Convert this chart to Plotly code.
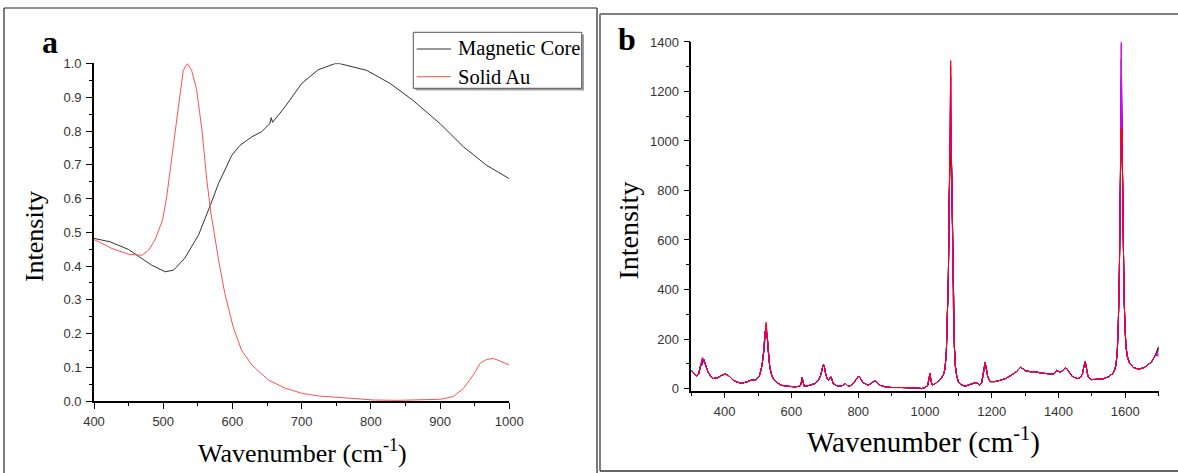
import plotly.graph_objects as go

W, H = 1178, 473
ML, MR, MT, MB = 15, 15, 15, 15

# ---------------- Panel a : extinction spectra ----------------
core_wn = [400, 404, 423, 450, 464, 483, 503, 515, 531, 551, 568, 580, 599, 611, 628, 642, 654, 656, 658, 676, 700, 724, 748, 755, 794, 828, 861, 900, 934, 967, 1000]
core_int = [0.482, 0.480, 0.472, 0.449, 0.429, 0.403, 0.383, 0.388, 0.423, 0.492, 0.580, 0.645, 0.728, 0.758, 0.783, 0.798, 0.822, 0.840, 0.826, 0.872, 0.941, 0.982, 1.000, 1.000, 0.980, 0.941, 0.891, 0.822, 0.753, 0.699, 0.659]

au_wn = [400, 404, 426, 450, 469, 479, 488, 499, 505, 513, 522, 529, 535, 541, 548, 556, 563, 569, 580, 589, 601, 613, 628, 652, 676, 700, 724, 758, 804, 837, 900, 919, 934, 948, 958, 967, 977, 986, 1000]
au_int = [0.478, 0.475, 0.452, 0.435, 0.432, 0.447, 0.477, 0.536, 0.605, 0.724, 0.872, 0.980, 1.000, 0.980, 0.926, 0.803, 0.654, 0.556, 0.418, 0.319, 0.220, 0.151, 0.107, 0.062, 0.038, 0.023, 0.015, 0.010, 0.003, 0.002, 0.005, 0.013, 0.038, 0.077, 0.112, 0.123, 0.126, 0.119, 0.107]

legend_names = ["Magnetic Core", "Solid Au"]
legend_colors = ["#333333", "#ff5050"]

# ---------------- Panel b : Raman spectra ----------------
raman_wn = [300, 308, 315, 322, 328, 333, 337, 342, 350, 358, 365, 380, 393, 402, 410, 418, 425, 435, 445, 455, 465, 480, 495, 505, 512, 517, 521, 524, 527, 530, 535, 540, 545, 555, 570, 590, 610, 625, 629, 632, 635, 638, 655, 670, 680, 688, 693, 696, 699, 703, 708, 712, 716, 718, 721, 725, 735, 745, 755, 762, 768, 775, 785, 795, 801, 807, 815, 830, 840, 849, 857, 865, 880, 900, 930, 960, 975, 990, 1000, 1008, 1012, 1015, 1018, 1022, 1031, 1040, 1048, 1055, 1060, 1064, 1067, 1070, 1073, 1075, 1077, 1079, 1081, 1083, 1085, 1088, 1091, 1095, 1100, 1108, 1120, 1130, 1142, 1150, 1156, 1164, 1170, 1175, 1178, 1180, 1183, 1188, 1195, 1210, 1225, 1241, 1260, 1274, 1282, 1287, 1293, 1301, 1315, 1329, 1350, 1370, 1384, 1390, 1395, 1399, 1404, 1412, 1420, 1425, 1432, 1440, 1450, 1458, 1466, 1472, 1476, 1480, 1484, 1488, 1497, 1510, 1525, 1536, 1550, 1563, 1568, 1572, 1576, 1579, 1582, 1585, 1587, 1588, 1590, 1592, 1594, 1596, 1599, 1602, 1606, 1612, 1618, 1624, 1635, 1645, 1657, 1668, 1679, 1690, 1700]
raman_base = [74, 62, 50, 58, 95, 118, 118, 98, 67, 50, 40, 44, 55, 58, 54, 44, 34, 27, 23, 23, 26, 34, 36, 54, 95, 150, 230, 258, 220, 160, 87, 58, 40, 25, 13, 9, 7, 9, 20, 44, 22, 9, 13, 20, 32, 55, 85, 96, 85, 55, 38, 34, 44, 47, 38, 20, 12, 9, 13, 20, 12, 10, 20, 40, 50, 40, 23, 13, 22, 31, 25, 13, 7, 4, 4, 4, 2, 0, 4, 12, 40, 61, 30, 14, 20, 30, 40, 55, 80, 150, 260, 450, 800, 1000, 1250, 950, 780, 520, 330, 170, 90, 50, 28, 16, 9, 14, 18, 24, 22, 14, 25, 60, 95, 105, 85, 47, 28, 28, 33, 40, 55, 68, 80, 86, 80, 72, 68, 68, 62, 60, 58, 65, 74, 70, 65, 72, 84, 80, 65, 50, 43, 40, 45, 61, 90, 108, 80, 50, 36, 36, 38, 40, 48, 61, 75, 95, 150, 260, 450, 800, 1050, 1300, 1050, 800, 560, 390, 250, 170, 130, 105, 95, 85, 80, 80, 85, 95, 108, 135, 165]

series_names = ["Spot 1", "Spot 2", "Spot 3", "Spot 4", "Spot 5", "Spot 6", "Spot 7", "Spot 8"]
series_colors = ["#000000", "#008000", "#000080", "#0000ff", "#800000", "#8000ff", "#ff00ff", "#ff0000"]
peak_333 = [110, 112, 105, 118, 100, 95, 120, 125]
peak_524 = [215, 225, 230, 245, 205, 240, 262, 268]
peak_1077 = [1030, 1080, 1120, 1260, 900, 960, 1300, 1325]
peak_1588 = [1250, 1390, 1150, 1330, 1100, 1200, 1400, 1000]
end_1700 = [170, 160, 165, 150, 140, 130, 135, 160]

fig = go.Figure()
fig.add_trace(go.Scatter(x=core_wn, y=core_int, mode="lines", name=legend_names[0],
                         line=dict(color=legend_colors[0], width=1), xaxis="x", yaxis="y"))
fig.add_trace(go.Scatter(x=au_wn, y=au_int, mode="lines", name=legend_names[1],
                         line=dict(color=legend_colors[1], width=1), xaxis="x", yaxis="y"))

for i, name in enumerate(series_names):
    overrides = {333: peak_333[i], 524: peak_524[i], 1077: peak_1077[i],
                 1588: peak_1588[i], 1700: end_1700[i]}
    yv = [overrides.get(w, b) for w, b in zip(raman_wn, raman_base)]
    fig.add_trace(go.Scatter(x=raman_wn, y=yv, mode="lines", name=name,
                             line=dict(color=series_colors[i], width=1), xaxis="x2", yaxis="y2"))

tickfont = dict(family="Liberation Sans, Arial, sans-serif", size=13, color="#333333")
common = dict(showline=True, linecolor="black", linewidth=1.6, ticks="outside", ticklen=6,
              tickwidth=1.3, tickcolor="black", showgrid=False, zeroline=False,
              tickfont=tickfont, mirror=False, ticklabelstandoff=2)
minor_style = dict(ticks="outside", ticklen=3.5, tickcolor="black", tickwidth=1.2)


def px(x):
    # page pixel -> paper fraction (paper = area inside the margins)
    return (x - ML) / (W - ML - MR)


def py(y):
    return 1 - (y - MT) / (H - MT - MB)


def clamp(v):
    return min(max(v, 0.0), 1.0)


fig.update_layout(
    width=W, height=H, margin=dict(l=ML, r=MR, t=MT, b=MB, pad=0, autoexpand=False),
    paper_bgcolor="white", plot_bgcolor="white",
    showlegend=False,
    xaxis=dict(domain=[clamp(px(94)), clamp(px(509.3))], range=[400, 1000], dtick=100, tick0=0,
               minor=dict(dtick=50, **minor_style), anchor="y", **common),
    yaxis=dict(domain=[clamp(py(401)), clamp(py(63.3))], range=[0, 1.001], dtick=0.1, tick0=0, tickformat=".1f",
               minor=dict(dtick=0.05, **minor_style), anchor="x", **common),
    xaxis2=dict(domain=[clamp(px(691.3)), clamp(px(1158.7))], range=[300, 1700], dtick=200, tick0=0,
                minor=dict(dtick=100, **minor_style), anchor="y2", **common),
    yaxis2=dict(domain=[clamp(py(390.5)), clamp(py(41.7))], range=[-8, 1401], dtick=200, tick0=0,
                minor=dict(dtick=100, **minor_style), anchor="x2", **common),
)

serif = "Liberation Serif, Times New Roman, serif"
ann = [
    dict(text="<b>a</b>", x=px(50), y=py(42), font=dict(family=serif, size=32, color="black")),
    dict(text="<b>b</b>", x=px(626.5), y=py(39), font=dict(family=serif, size=32, color="black")),
    dict(text="Wavenumber (cm<sup>-1</sup>)", x=px(302), y=py(451), font=dict(family=serif, size=26, color="black")),
    dict(text="Intensity", x=px(34.4), y=py(236.7), textangle=-90, font=dict(family=serif, size=26, color="black")),
    dict(text="Wavenumber (cm<sup>-1</sup>)", x=px(923.6), y=py(440), font=dict(family=serif, size=29, color="black")),
    dict(text="Intensity", x=px(627.6), y=py(231), textangle=-90, font=dict(family=serif, size=28, color="black")),
]
for a in ann:
    a.update(xanchor="center", yanchor="middle")
legend_rows_y = [49, 76.7]
for name, ry in zip(legend_names, legend_rows_y):
    ann.append(dict(text=name, x=px(456), y=py(ry), xanchor="left", yanchor="middle",
                    font=dict(family=serif, size=20.5, color="black")))
for a in ann:
    a.update(xref="paper", yref="paper", showarrow=False)
fig.update_layout(annotations=ann)

shapes = [
    # panel a frame
    dict(type="line", x0=px(4), x1=px(4), y0=py(473), y1=py(8), line=dict(color="#222222", width=1.2)),
    dict(type="line", x0=px(4), x1=px(597), y0=py(8), y1=py(8), line=dict(color="#222222", width=1.2)),
    dict(type="line", x0=px(597), x1=px(597), y0=py(473), y1=py(8), line=dict(color="#222222", width=1.2)),
    # panel b frame
    dict(type="line", x0=px(600), x1=px(1178), y0=py(14), y1=py(14), line=dict(color="#808080", width=2)),
    dict(type="line", x0=px(600), x1=px(600), y0=py(14), y1=py(471), line=dict(color="#808080", width=2)),
    dict(type="line", x0=px(600), x1=px(1178), y0=py(471), y1=py(471), line=dict(color="#333333", width=1.5)),
    # legend shadow + box
    dict(type="rect", x0=px(415.5), x1=px(584), y0=py(90.5), y1=py(34.5), fillcolor="#a0a0a0",
         line=dict(width=0), layer="above"),
    dict(type="rect", x0=px(413.3), x1=px(581.7), y0=py(88.3), y1=py(32.3), fillcolor="white",
         line=dict(color="#555555", width=1), layer="above"),
]
for name, col, ry in zip(legend_names, legend_colors, legend_rows_y):
    shapes.append(dict(type="line", x0=px(416.7), x1=px(451), y0=py(ry), y1=py(ry),
                       line=dict(color=col, width=1), layer="above"))
for s in shapes:
    s.update(xref="paper", yref="paper")
fig.update_layout(shapes=shapes)

fig.write_html("out.html")
